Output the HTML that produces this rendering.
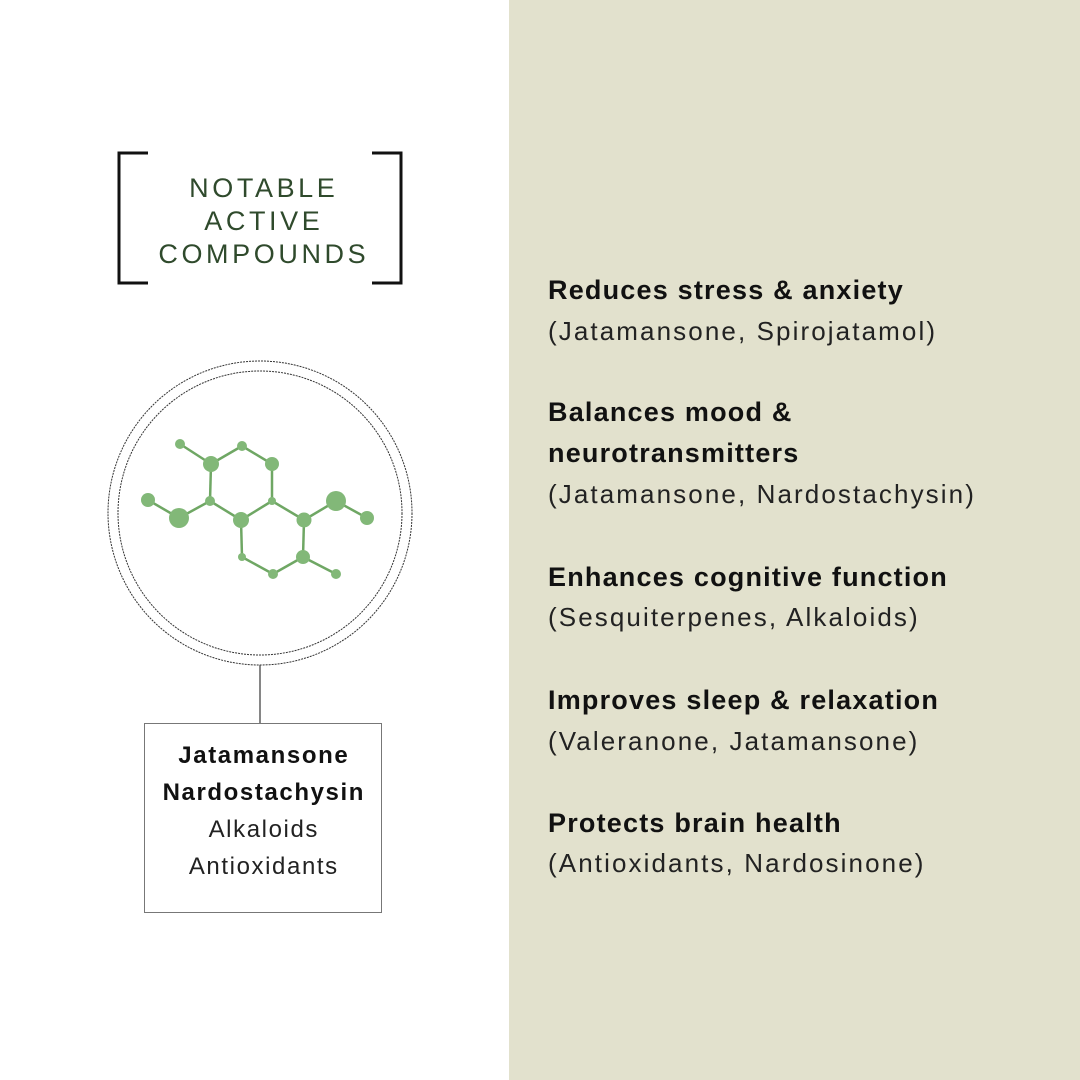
<!DOCTYPE html>
<html><head><meta charset="utf-8"><style>
body{margin:0;width:1080px;height:1080px;position:relative;background:#fff;overflow:hidden;font-family:"Liberation Sans",sans-serif}
.r{position:absolute;left:509px;top:0;width:571px;height:1080px;background:#e2e1cd}
.t{position:absolute;white-space:nowrap;line-height:40px;height:40px}
.b{font-weight:bold;font-size:27px;color:#111;letter-spacing:1.2px}
.n{font-size:26px;color:#222;letter-spacing:2.1px}
.h{position:absolute;left:110px;width:304px;text-align:center;color:#2f4a2c;font-size:27px;letter-spacing:3.6px;padding-left:3.6px;box-sizing:border-box;line-height:33px;height:33px}
.c{position:absolute;left:144px;width:238px;text-align:center;font-size:24px;line-height:37px;height:37px;color:#111;letter-spacing:1.6px;padding-left:1.6px;box-sizing:border-box}
</style></head><body>
<div class="r"></div>
<svg width="1080" height="1080" style="position:absolute;left:0;top:0">
<path d="M148 153H119V283H148M372 153H401V283H372" fill="none" stroke="#111" stroke-width="3"/>
<circle cx="260" cy="513" r="152" fill="none" stroke="#333" stroke-width="1" stroke-dasharray="2,1"/>
<circle cx="260" cy="513" r="142" fill="none" stroke="#333" stroke-width="1" stroke-dasharray="2,1"/>
<line x1="260" y1="665" x2="260" y2="723" stroke="#444" stroke-width="1.3"/>
<rect x="144.5" y="723.5" width="237" height="189" fill="#fff" stroke="#777" stroke-width="1"/>
<g stroke="#6fa764" stroke-width="2.5">
<line x1="180" y1="444" x2="211" y2="464"/><line x1="211" y1="464" x2="242" y2="446"/><line x1="242" y1="446" x2="272" y2="464"/>
<line x1="211" y1="464" x2="210" y2="501"/><line x1="272" y1="464" x2="272" y2="501"/><line x1="148" y1="500" x2="179" y2="518"/>
<line x1="179" y1="518" x2="210" y2="501"/><line x1="210" y1="501" x2="241" y2="520"/><line x1="241" y1="520" x2="272" y2="501"/>
<line x1="272" y1="501" x2="304" y2="520"/><line x1="304" y1="520" x2="336" y2="501"/><line x1="336" y1="501" x2="367" y2="518"/>
<line x1="241" y1="520" x2="242" y2="557"/><line x1="242" y1="557" x2="273" y2="574"/><line x1="273" y1="574" x2="303" y2="557"/>
<line x1="303" y1="557" x2="304" y2="520"/><line x1="303" y1="557" x2="336" y2="574"/>
</g>
<g fill="#82b878">
<circle cx="180" cy="444" r="5"/><circle cx="211" cy="464" r="8"/><circle cx="242" cy="446" r="5"/><circle cx="272" cy="464" r="7"/>
<circle cx="210" cy="501" r="5"/><circle cx="272" cy="501" r="4"/><circle cx="148" cy="500" r="7"/><circle cx="179" cy="518" r="10"/>
<circle cx="241" cy="520" r="8"/><circle cx="304" cy="520" r="7.5"/><circle cx="336" cy="501" r="10"/><circle cx="367" cy="518" r="7"/>
<circle cx="242" cy="557" r="4"/><circle cx="273" cy="574" r="5"/><circle cx="303" cy="557" r="7"/><circle cx="336" cy="574" r="5"/>
</g>
</svg>
<div class="h" style="top:172px">NOTABLE</div>
<div class="h" style="top:205px">ACTIVE</div>
<div class="h" style="top:238px">COMPOUNDS</div>
<div class="c" style="top:737px;font-weight:bold">Jatamansone</div>
<div class="c" style="top:774px;font-weight:bold">Nardostachysin</div>
<div class="c" style="top:811px;color:#222">Alkaloids</div>
<div class="c" style="top:848px;color:#222">Antioxidants</div>
<div class="t b" style="left:548px;top:270px">Reduces stress &amp; anxiety</div>
<div class="t n" style="left:548px;top:311px">(Jatamansone, Spirojatamol)</div>
<div class="t b" style="left:548px;top:392px">Balances mood &amp;</div>
<div class="t b" style="left:548px;top:433px">neurotransmitters</div>
<div class="t n" style="left:548px;top:474px">(Jatamansone, Nardostachysin)</div>
<div class="t b" style="left:548px;top:557px">Enhances cognitive function</div>
<div class="t n" style="left:548px;top:597px">(Sesquiterpenes, Alkaloids)</div>
<div class="t b" style="left:548px;top:680px">Improves sleep &amp; relaxation</div>
<div class="t n" style="left:548px;top:721px">(Valeranone, Jatamansone)</div>
<div class="t b" style="left:548px;top:803px">Protects brain health</div>
<div class="t n" style="left:548px;top:843px">(Antioxidants, Nardosinone)</div>
</body></html>
